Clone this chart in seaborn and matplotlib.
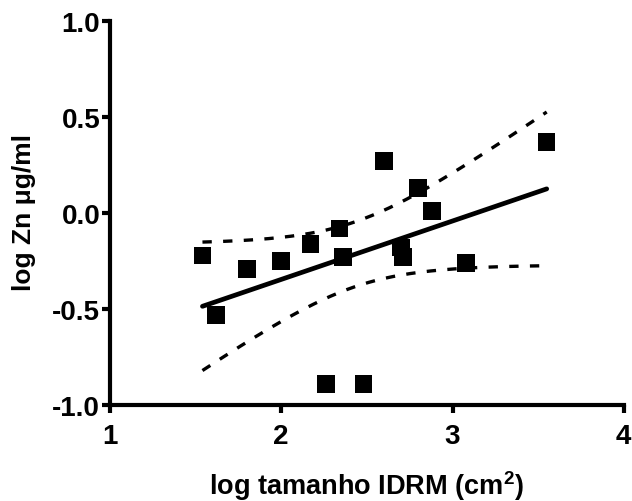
import numpy as np
import pandas as pd
import seaborn as sns
import matplotlib
matplotlib.use("Agg")
import matplotlib.pyplot as plt

# Measurements: log lesion size (cm^2) vs log zinc concentration
log_size = [1.54, 1.62, 1.80, 2.00, 2.17, 2.34, 2.36, 2.26,
            2.48, 2.60, 2.80, 2.88, 2.70, 2.71, 3.08, 3.55]
log_zn = [-0.22, -0.53, -0.29, -0.25, -0.16, -0.08, -0.23, -0.89,
          -0.89, 0.27, 0.13, 0.01, -0.18, -0.23, -0.26, 0.37]

x_ticks = [1, 2, 3, 4]
y_ticks = [-1.0, -0.5, 0.0, 0.5, 1.0]
y_tick_labels = ["-1.0", "-0.5", "0.0", "0.5", "1.0"]

sns.set_theme(style="ticks")
plt.rcParams["font.family"] = ["Liberation Sans", "DejaVu Sans"]
plt.rcParams["font.weight"] = "bold"
plt.rcParams["text.color"] = "black"
plt.rcParams["axes.labelcolor"] = "black"
plt.rcParams["xtick.color"] = "black"
plt.rcParams["ytick.color"] = "black"
plt.rcParams["mathtext.fontset"] = "custom"
plt.rcParams["mathtext.rm"] = "Liberation Sans:bold"
plt.rcParams["mathtext.bf"] = "Liberation Sans:bold"
plt.rcParams["mathtext.default"] = "bf"

df = pd.DataFrame({"x": log_size, "y": log_zn})

# Least-squares fit with 95% confidence band for the mean response
x = np.asarray(log_size)
y = np.asarray(log_zn)
n = len(x)
slope, intercept = np.polyfit(x, y, 1)
resid = y - (slope * x + intercept)
s_err = np.sqrt(np.sum(resid ** 2) / (n - 2))
t_crit = 2.145  # t(0.975, df=14)
xs = np.linspace(x.min(), x.max(), 200)
fit = slope * xs + intercept
half = t_crit * s_err * np.sqrt(1.0 / n + (xs - x.mean()) ** 2 / np.sum((x - x.mean()) ** 2))
fit_df = pd.DataFrame({"x": xs, "fit": fit, "lo": fit - half, "hi": fit + half})

fig = plt.figure(figsize=(6.32, 5.02), dpi=100)
ax = fig.add_axes([0.174, 0.191, 0.813, 0.765])

sns.scatterplot(data=df, x="x", y="y", marker="s", s=160, color="black",
                edgecolor="none", ax=ax, zorder=3)
sns.lineplot(data=fit_df, x="x", y="fit", color="black", linewidth=3.4, ax=ax)
for col in ("lo", "hi"):
    sns.lineplot(data=fit_df, x="x", y=col, color="black", linewidth=2.4, ax=ax)
    ax.lines[-1].set_dashes([2.8, 3.4])

ax.set_xlim(1, 4)
ax.set_ylim(-1.0, 1.0)
ax.set_xticks(x_ticks)
ax.set_xticklabels([str(t) for t in x_ticks])
ax.set_yticks(y_ticks)
ax.set_yticklabels(y_tick_labels)

for side in ("top", "right"):
    ax.spines[side].set_visible(False)
for side in ("left", "bottom"):
    ax.spines[side].set_linewidth(3)
    ax.spines[side].set_color("black")
ax.tick_params(axis="both", direction="out", length=6, width=3, color="black",
               labelcolor="black", labelsize=20)
ax.tick_params(axis="x", pad=7)
ax.tick_params(axis="y", pad=1)
for lab in ax.get_xticklabels() + ax.get_yticklabels():
    lab.set_fontweight("bold")

ax.set_xlabel("log tamanho IDRM (cm$^2$)", fontsize=19.5, fontweight="bold", color="black")
ax.set_ylabel("log Zn μg/ml", fontsize=19, fontweight="bold", color="black")
ax.xaxis.set_label_coords(0.5, -0.165)
ax.yaxis.set_label_coords(-0.143, 0.505)

fig.savefig("out.png", dpi=100, facecolor="white")
